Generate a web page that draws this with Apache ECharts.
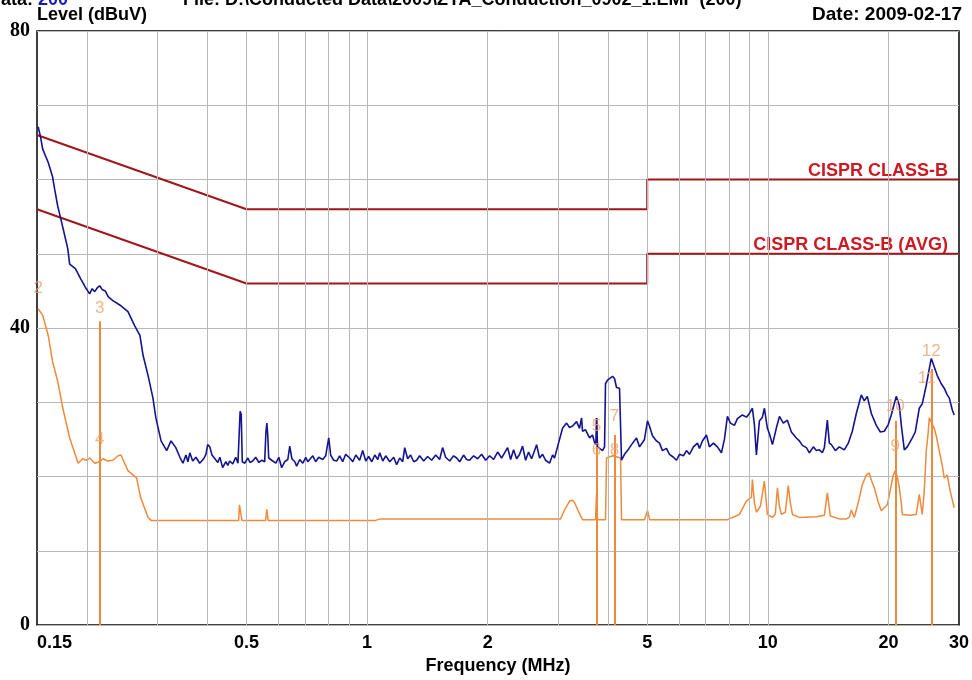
<!doctype html>
<html>
<head>
<meta charset="utf-8">
<title>Conducted emission</title>
<script src="https://cdn.jsdelivr.net/npm/echarts@6.0.0/dist/echarts.min.js"></script>
<style>
html, body { margin: 0; padding: 0; background: #fff; }
#main { width: 972px; height: 680px; }
</style>
</head>
<body>
<div id="main"></div>
<script>
// peak trace (blue), frequency in MHz / level in dBuV
var peakFreq = [
  0.151, 0.153, 0.155, 0.160, 0.164, 0.166, 0.169, 0.172, 0.176, 0.179, 0.181, 0.187, 0.193, 0.198,
  0.203, 0.206, 0.209, 0.212, 0.215, 0.218, 0.222, 0.226, 0.232, 0.243, 0.253, 0.263, 0.271, 0.276,
  0.284, 0.292, 0.297, 0.306, 0.316, 0.324, 0.333,
  0.341, 0.347, 0.353, 0.357, 0.361, 0.367, 0.374, 0.382, 0.391, 0.396, 0.400, 0.405, 0.410, 0.417,
  0.424, 0.429, 0.436, 0.444, 0.449, 0.454, 0.462, 0.470, 0.476, 0.479, 0.482, 0.485, 0.488, 0.495,
  0.504, 0.510, 0.518, 0.527, 0.537, 0.546, 0.555, 0.559, 0.562, 0.565, 0.568, 0.578, 0.592, 0.602,
  0.612, 0.623, 0.634, 0.641, 0.649, 0.660, 0.667, 0.679, 0.691, 0.703, 0.711, 0.719, 0.732, 0.744,
  0.757, 0.775, 0.788, 0.802, 0.811, 0.825, 0.840, 0.854, 0.869, 0.884, 0.905, 0.921, 0.937, 0.958,
  0.975, 0.992, 1.009, 1.027, 1.045, 1.063, 1.075, 1.094, 1.113, 1.139, 1.165, 1.185, 1.206, 1.227,
  1.241, 1.262, 1.284, 1.307, 1.329, 1.352, 1.384, 1.416, 1.449, 1.483, 1.517, 1.543, 1.570, 1.607,
  1.644, 1.673, 1.702, 1.741, 1.771, 1.802, 1.844, 1.887, 1.931, 1.976, 2.022, 2.069, 2.117, 2.166,
  2.203, 2.242, 2.281, 2.320, 2.361, 2.402, 2.443, 2.486, 2.529, 2.573, 2.618, 2.648, 2.694, 2.741,
  2.788, 2.853, 2.903, 2.936, 3.004, 3.074, 3.146,
  3.200, 3.256, 3.332, 3.389, 3.429, 3.448, 3.508, 3.590, 3.652, 3.694, 3.722, 3.737, 3.759, 3.802,
  3.868, 3.913, 3.935, 3.981, 4.027, 4.097, 4.144, 4.192, 4.265, 4.289, 4.314, 4.389, 4.465, 4.569,
  4.702, 4.784, 4.839, 4.923, 5.008, 5.066, 5.154, 5.274, 5.366, 5.459, 5.586, 5.683, 5.815, 5.916,
  6.019, 6.158, 6.265, 6.374, 6.522, 6.674, 6.751, 6.868, 7.028, 7.150, 7.316, 7.486, 7.660, 7.793,
  7.928, 8.066, 8.253, 8.397, 8.642, 8.842, 8.996, 9.152, 9.258, 9.365, 9.528, 9.693, 9.805, 9.975,
  10.09, 10.27, 10.50, 10.69, 10.93, 11.19, 11.45, 11.78, 11.99, 12.20, 12.48, 12.70, 12.99, 13.22,
  13.45, 13.68, 13.84, 14.08, 14.24, 14.41, 14.74, 15.08, 15.52, 15.88, 16.25, 16.63, 16.92, 17.11,
  17.41, 17.71, 18.13, 18.65, 19.09, 19.53, 19.98, 20.33, 20.68, 20.92, 21.29, 21.53, 21.91, 22.29,
  22.94, 23.33, 23.88, 24.29, 24.86, 25.29, 25.58, 26.02, 26.48, 27.09, 27.56, 28.04, 28.37, 28.86,
  29.19
];
var peakLevel = [
  67.1, 65.8, 64.1, 62.3, 60.4, 58.7, 56.4, 54.7, 52.4, 50.7, 48.6, 48.0, 46.6, 45.5,
  44.6, 45.3, 44.9, 45.4, 45.7, 45.2, 45.0, 44.2, 43.7, 43.0, 42.2, 40.3, 39.0, 36.3,
  33.6, 30.6, 27.9, 24.8, 23.5, 24.8, 23.9,
  22.6, 21.8, 22.9, 22.0, 23.2, 22.1, 22.6, 21.8, 22.4, 23.0, 24.3, 24.0, 22.9, 22.4,
  21.9, 22.6, 21.2, 22.0, 21.5, 22.1, 21.7, 22.6, 21.8, 22.0, 28.8, 28.4, 22.0, 21.8,
  22.5, 21.9, 22.1, 22.6, 21.9, 22.2, 22.0, 26.0, 27.2, 25.5, 22.5, 22.2, 21.8, 22.6,
  21.2, 22.0, 22.3, 24.1, 22.4, 22.0, 21.4, 22.3, 21.8, 22.6, 22.0, 22.2, 22.8, 22.0,
  22.6, 22.3, 22.8, 25.2, 22.9, 22.2, 22.1, 22.8, 22.0, 23.0, 22.5, 22.0, 22.9, 22.2,
  23.5, 22.1, 22.7, 22.0, 22.9, 22.3, 23.2, 22.1, 22.8, 22.0, 22.6, 21.6, 22.5, 22.0,
  23.9, 22.4, 22.9, 22.0, 22.2, 22.8, 22.1, 22.7, 22.2, 22.9, 22.3, 23.9, 22.6, 22.1,
  22.8, 22.5, 22.0, 22.9, 22.3, 22.2, 22.8, 22.4, 23.0, 22.2, 22.8, 22.3, 23.3, 22.5,
  23.2, 23.9, 22.3, 23.6, 22.4, 23.0, 24.1, 22.2, 23.3, 22.4, 23.5, 24.3, 22.5, 23.0,
  22.2, 21.8, 22.9, 22.5, 24.5, 26.5, 27.2,
  26.6, 26.8, 27.4, 26.5, 27.9, 26.1, 26.3, 25.2, 25.6, 24.6, 24.3, 27.9, 24.0, 23.9,
  23.5, 24.0, 32.5, 33.0, 32.8, 33.5, 33.2, 32.0, 31.9, 31.9, 22.2, 23.0, 23.5, 24.3,
  25.2, 24.0, 23.9, 25.0, 27.5, 26.8, 25.5, 24.8, 24.5, 23.5, 23.8, 23.0, 22.6, 22.2,
  23.0, 22.8, 23.5, 23.0, 24.0, 24.5, 23.8, 24.8, 25.6, 24.0, 24.5, 24.0, 23.2, 25.0,
  28.1, 27.2, 26.9, 27.8, 28.3, 28.0, 28.5, 29.2, 27.0, 22.9, 27.5, 28.0, 29.2, 26.5,
  25.8, 24.3, 26.5, 28.1, 27.2, 27.6, 26.0, 25.2, 24.8, 24.2, 23.9, 23.2, 24.0, 23.5,
  23.6, 23.2, 23.9, 27.6, 24.5, 24.3, 23.5, 24.0, 23.6, 24.5, 26.1, 28.5, 30.0, 31.0,
  30.2, 30.8, 28.5, 26.9, 26.0, 26.1, 27.0, 28.3, 29.8, 30.8, 29.6, 27.0, 23.6, 24.0,
  25.2, 26.0, 29.2, 29.8, 32.3, 34.5, 35.9, 34.8, 33.6, 32.5, 31.9, 31.0, 30.6, 29.0,
  28.3
];

// average trace (orange)
var avgFreq = [
  0.151, 0.155, 0.160, 0.164, 0.169, 0.174, 0.181, 0.190, 0.195, 0.199, 0.203, 0.209, 0.215, 0.219,
  0.225, 0.232, 0.239, 0.243, 0.253, 0.266, 0.272, 0.284, 0.289, 0.478, 0.480, 0.484, 0.487, 0.558,
  0.562, 0.566, 1.050, 1.080, 3.040, 3.110, 3.200, 3.256, 3.293, 3.389, 3.448, 3.716, 3.737, 3.759,
  3.935, 3.958, 4.100, 4.290, 4.314, 4.923, 5.008, 5.070, 7.928, 8.494, 8.842, 9.100, 9.152, 9.258,
  9.365, 9.582, 9.805, 9.975, 10.27, 10.44, 10.57, 10.69, 10.81, 11.06, 11.25, 11.38, 11.52, 11.99,
  13.22, 13.84, 14.08, 14.32, 15.08, 15.70, 15.97, 16.16, 16.44, 16.82, 17.21, 17.61, 17.92, 18.13,
  18.44, 18.87, 19.20, 19.53, 19.87, 20.10, 20.33, 20.57, 20.80, 21.04, 21.29, 21.53, 21.66, 22.54,
  23.47, 23.88, 24.29, 24.57, 24.86, 25.14, 25.29, 25.58, 26.02, 26.32, 26.78, 27.25, 27.56, 28.04,
  28.53, 29.19
];
var avgLevel = [
  42.6, 41.7, 39.0, 35.5, 32.8, 29.2, 25.2, 21.8, 22.4, 22.2, 22.5, 21.8, 22.0, 22.4,
  22.1, 22.2, 22.8, 22.9, 20.8, 19.8, 17.2, 14.5, 14.1, 14.1, 16.2, 16.2, 14.1, 14.1,
  15.6, 14.1, 14.1, 14.3, 14.3, 15.5, 16.7, 16.8, 16.5, 15.0, 14.2, 14.2, 17.6, 14.2,
  14.2, 22.5, 22.8, 22.5, 14.2, 14.2, 15.4, 14.2, 14.2, 14.9, 16.7, 17.2, 19.6, 16.5,
  15.2, 16.0, 19.4, 14.9, 14.5, 15.0, 18.5, 16.0, 14.9, 15.2, 18.8, 16.5, 14.9, 14.5,
  14.6, 14.8, 17.8, 14.7, 14.3, 14.3, 14.5, 15.5, 14.5, 16.5, 18.9, 20.2, 20.5, 19.5,
  18.5, 16.5, 15.4, 15.8, 16.2, 17.5, 18.9, 20.2, 20.8, 20.0, 18.5, 16.5, 14.9, 14.8,
  14.9, 17.6, 14.9, 18.0, 23.5, 26.0, 27.9, 28.0, 26.5, 25.5, 23.5, 21.5, 19.8, 20.2,
  18.0, 15.8
];

// CISPR 22 class B limit lines
var limitFreq = [0.15, 0.5, 5, 5, 30];
var qpLimit = [66, 56, 56, 60, 60];
var avLimit = [56, 46, 46, 50, 50];

// marker lines and marker numbers
var markerFreq = [0.215, 3.737, 4.144, 20.80, 25.58];
var markerTop = [40.9, 27.9, 25.6, 27.5, 34.5];
var labelText = ['2', '3', '4', '5', '6', '7', '8', '9', '10', '11', '12'];
var labelFreq = [0.151, 0.215, 0.215, 3.737, 3.737, 4.144, 4.144, 20.80, 20.80, 24.90, 25.58];
var labelLevel = [45.3, 42.6, 25.0, 26.8, 23.6, 28.1, 23.6, 24.1, 29.5, 33.2, 36.9];

// axis grid and ticks
var gridFreq = [0.2, 0.3, 0.4, 0.5, 0.6, 0.7, 0.8, 0.9, 1, 2, 3, 4, 5, 6, 7, 8, 9, 10, 20];
var xTicks = [0.15, 0.5, 1, 2, 5, 10, 20, 30];

function pairs(xs, ys) {
    var out = [];
    for (var i = 0; i < xs.length; i++) out.push([xs[i], ys[i]]);
    return out;
}

var sans = '"Liberation Sans", Arial, sans-serif';
var chart = echarts.init(document.getElementById('main'));

chart.setOption({
    animation: false,
    grid: { left: 37, right: 12, top: 31, bottom: 52, show: true, borderColor: '#000', borderWidth: 1.5 },
    xAxis: {
        type: 'log', logBase: 10, min: 0.15, max: 30,
        axisLine: { show: false }, axisTick: { show: false }, splitLine: { show: false },
        axisLabel: {
            customValues: xTicks,
            formatter: function (v) { return String(Math.round(v * 100) / 100); },
            color: '#000', fontWeight: 'bold', fontSize: 18, fontFamily: sans, margin: 9,
            alignMinLabel: 'left'
        },
        name: 'Frequency (MHz)', nameLocation: 'middle', nameGap: 31,
        nameTextStyle: { color: '#000', fontWeight: 'bold', fontSize: 18, fontFamily: sans }
    },
    yAxis: {
        type: 'value', min: 0, max: 80, interval: 10,
        axisLine: { show: false }, axisTick: { show: false },
        splitLine: { lineStyle: { color: '#b8b8b8', width: 1 } },
        axisLabel: {
            formatter: function (v) { return v % 40 === 0 ? String(v) : ''; },
            color: '#000', fontWeight: 'bold', fontSize: 20, fontFamily: '"Liberation Serif", serif', margin: 7
        }
    },
    graphic: [
        { type: 'text', x: -12, y: 0, style: { text: '{k|Data: }{b|200}', verticalAlign: 'middle',
            rich: { k: { fill: '#000', font: 'bold 18px ' + sans }, b: { fill: '#1a1ab4', font: 'bold 18px ' + sans } } } },
        { type: 'text', x: 183, y: 0, style: { text: 'File: D:\\Conducted Data\\2009\\ZYA_Conduction_0902_1.EMF (200)',
            fill: '#000', font: 'bold 18px ' + sans, verticalAlign: 'middle' } },
        { type: 'text', x: 37, y: 15, style: { text: 'Level (dBuV)', fill: '#000', font: 'bold 18px ' + sans, verticalAlign: 'middle' } },
        { type: 'text', x: 962, y: 15, style: { text: 'Date: 2009-02-17', fill: '#000', font: 'bold 19px ' + sans,
            align: 'right', verticalAlign: 'middle' } },
        { type: 'text', x: 948, y: 171, style: { text: 'CISPR CLASS-B', fill: '#cc1a22', font: 'bold 18px ' + sans,
            align: 'right', verticalAlign: 'middle' } },
        { type: 'text', x: 948, y: 245, style: { text: 'CISPR CLASS-B (AVG)', fill: '#cc1a22', font: 'bold 18px ' + sans,
            align: 'right', verticalAlign: 'middle' } }
    ],
    series: [
        {
            name: 'grid', type: 'line', data: [], z: 1, silent: true,
            markLine: {
                silent: true, symbol: ['none', 'none'], label: { show: false },
                lineStyle: { color: '#b8b8b8', width: 1, type: 'solid' },
                data: gridFreq.map(function (f) { return { xAxis: f }; })
            }
        },
        {
            name: 'QP limit', type: 'line', data: pairs(limitFreq, qpLimit), z: 3,
            symbol: 'none', lineStyle: { color: '#a0161a', width: 2 }
        },
        {
            name: 'AV limit', type: 'line', data: pairs(limitFreq, avLimit), z: 3,
            symbol: 'none', lineStyle: { color: '#a0161a', width: 2 }
        },
        {
            name: 'Average', type: 'line', data: pairs(avgFreq, avgLevel), z: 4,
            symbol: 'none', lineStyle: { color: '#ef8a3c', width: 1.5 },
            markLine: {
                silent: true, symbol: ['none', 'none'], label: { show: false },
                lineStyle: { color: '#ef8a3c', width: 2, type: 'solid' },
                data: markerFreq.map(function (f, i) { return [{ coord: [f, 0] }, { coord: [f, markerTop[i]] }]; })
            }
        },
        {
            name: 'Peak', type: 'line', data: pairs(peakFreq, peakLevel), z: 5,
            symbol: 'none', lineStyle: { color: '#14148f', width: 1.6 }
        },
        {
            name: 'markers', type: 'scatter', z: 6, symbolSize: 1, itemStyle: { color: 'rgba(0,0,0,0)' },
            data: labelFreq.map(function (f, i) { return [f, labelLevel[i], labelText[i]]; }),
            label: {
                show: true, position: 'inside', formatter: function (p) { return p.value[2]; },
                color: '#eaa46e', fontSize: 17, fontFamily: sans
            }
        }
    ]
});
</script>
</body>
</html>
